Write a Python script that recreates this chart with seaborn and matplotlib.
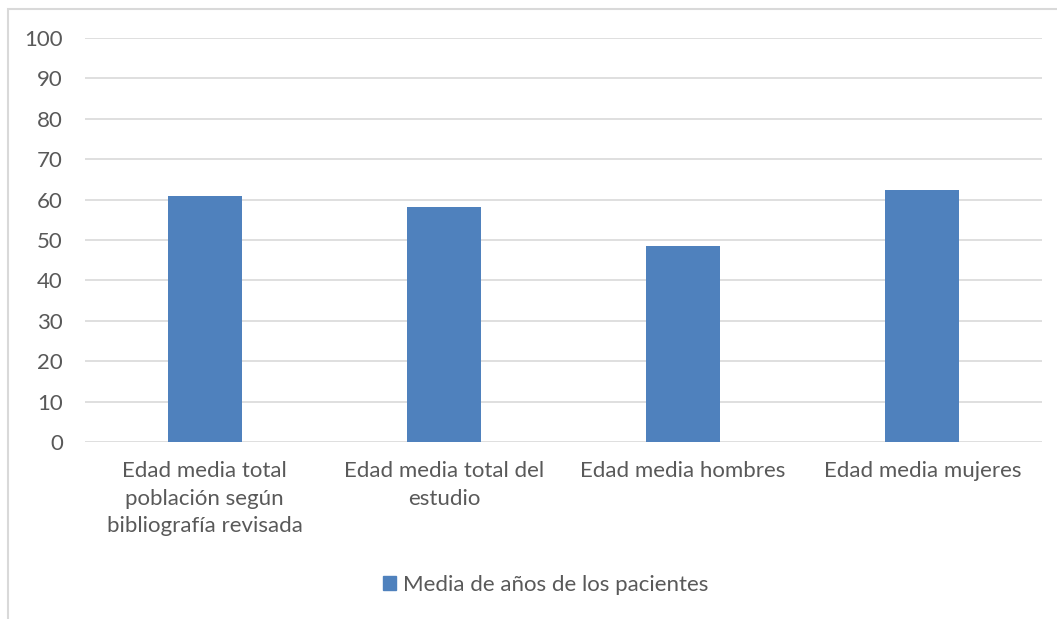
import matplotlib
matplotlib.use("Agg")
import matplotlib.pyplot as plt
import matplotlib.patches as mpatches
import seaborn as sns
import pandas as pd

categories = [
    "Edad media total\npoblación según\nbibliografía revisada",
    "Edad media total del\nestudio",
    "Edad media hombres",
    "Edad media mujeres",
]
values = [60.9, 58.2, 48.6, 62.3]
series_name = "Media de años de los pacientes"
y_ticks = list(range(0, 101, 10))

sns.set_theme(style="white")
plt.rcParams["font.family"] = ["Lato", "DejaVu Sans"]

W, H = 1057, 619
BAR = "#4F81BD"
TXT = "#595959"
fig = plt.figure(figsize=(W / 100, H / 100), dpi=100)
fig.patch.set_facecolor("white")

# outer chart frame (runs off the right and bottom edges)
fig.add_artist(mpatches.Rectangle((8 / W, -0.1), 1.2, 1.1 - 9 / H,
                                  transform=fig.transFigure, fill=False,
                                  edgecolor="#D9D9D9", linewidth=1.5))

ax = fig.add_axes([85 / W, (H - 442) / H, 957 / W, 404 / H])
df = pd.DataFrame({"cat": categories, "val": values, "serie": series_name})
sns.barplot(data=df, x="cat", y="val", hue="serie", palette=[BAR],
            saturation=1, width=0.31, linewidth=0, ax=ax, legend=False)

ax.set_ylim(0, 100)
ax.set_yticks(y_ticks)
ax.set_xlim(-0.5, len(categories) - 0.5)
ax.set_xlabel("")
ax.set_ylabel("")
ax.grid(axis="y", color="#D9D9D9", linewidth=1.2)
ax.set_axisbelow(True)
for s in ax.spines.values():
    s.set_visible(False)
ax.tick_params(axis="both", length=0, labelsize=16, labelcolor=TXT)
ax.tick_params(axis="y", pad=16)
ax.tick_params(axis="x", pad=14)
for lbl in ax.get_xticklabels():
    lbl.set_horizontalalignment("center")
    lbl.set_linespacing(1.45)

ax.legend(handles=[mpatches.Patch(color=BAR, label=series_name)],
          loc="center", bbox_to_anchor=(0.5 + 17 / W, (H - 585) / H),
          bbox_transform=fig.transFigure,
          frameon=False, fontsize=16, labelcolor=TXT,
          handlelength=0.6, handleheight=0.6, handletextpad=0.3)

fig.savefig("out.png", dpi=100)
